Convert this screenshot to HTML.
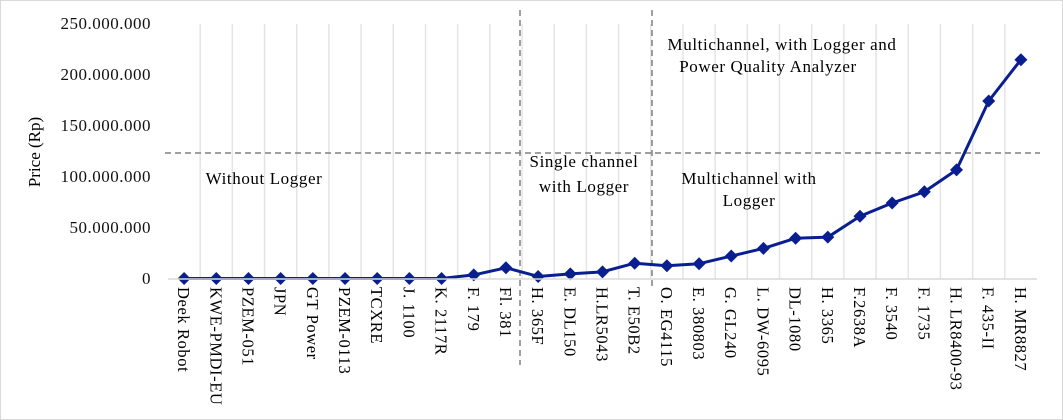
<!DOCTYPE html>
<html><head><meta charset="utf-8"><style>
body{margin:0;background:#fff}
svg{display:block;font-family:"Liberation Serif",serif}
</style></head><body>
<svg id="chart" width="1063" height="420">
<rect x="0.5" y="0.5" width="1062" height="419" fill="#fff" stroke="#d9d9d9"/>
<g id="grid"></g><g id="ann"></g><g id="series"></g><g id="axes"></g>
</svg>
<script>
const categories=["Deek Robot","KWE-PMDI-EU","PZEM-051","JPN","GT Power","PZEM-0113","TCXRE","J. 1100","K. 2117R","F. 179","Fl. 381","H. 365F","E. DL150","H.LR5043","T. E50B2","O. EG4115","E. 380803","G. GL240","L. DW-6095","DL-1080","H. 3365","F.2638A","F. 3540","F. 1735","H. LR8400-93","F. 435-II","H. MR8827"];
const prices=[0.5,0.5,0.5,0.5,0.5,0.5,0.5,0.5,0.5,4,11,2.5,5,7,15.5,13,15,22.5,30,40,41,61.5,74.5,85.5,107,174.5,215];
const yTicks=[0,50,100,150,200,250];
const yTickLabels=["0","50.000.000","100.000.000","150.000.000","200.000.000","250.000.000"];
const NS="http://www.w3.org/2000/svg";
const L=168,R=1037,Y0=279,Y1=24,YMAX=250;
const n=categories.length,step=(R-L)/n;
const x=i=>L+step*(i+0.5);
const y=v=>Y0-(v/YMAX)*(Y0-Y1);
function mk(p,t,a){const e=document.createElementNS(NS,t);for(const k in a)e.setAttribute(k,a[k]);p.appendChild(e);return e;}
const grid=document.getElementById('grid'),ann=document.getElementById('ann'),ser=document.getElementById('series'),ax=document.getElementById('axes');
for(let i=1;i<n;i++){const g=mk(grid,'line',{x1:L+step*i,x2:L+step*i,y1:Y1,y2:Y0,stroke:'#e4e4e4','stroke-width':1.5});

}
const base=mk(ax,'line',{x1:L,x2:R,y1:Y0,y2:Y0,stroke:'#d9d9d9','stroke-width':1.5});


yTicks.forEach((v,i)=>{const t=mk(ax,'text',{x:151,y:y(v)+5,'text-anchor':'end','font-size':17,'letter-spacing':0.5,fill:'#111'});t.textContent=yTickLabels[i];

});
const yt=mk(ax,'text',{x:0,y:0,transform:'translate(40,152) rotate(-90)','text-anchor':'middle','font-size':17});yt.textContent='Price (Rp)';


categories.forEach((c,i)=>{const t=mk(ax,'text',{x:0,y:0,transform:`translate(${x(i)-6},287) rotate(90)`,'font-size':16.5,'letter-spacing':0.6});t.textContent=c;

});
[[520,10,365],[652,10,290]].forEach(a=>{const d=mk(ann,'line',{x1:a[0],x2:a[0],y1:a[1],y2:a[2],stroke:'#808080','stroke-width':1.5,'stroke-dasharray':'6,4'});

});
const h=mk(ann,'line',{x1:165,x2:1040,y1:153,y2:153,stroke:'#808080','stroke-width':1.5,'stroke-dasharray':'6,4'});


[["Without Logger",264,184],["Single channel",584,167],["with Logger",584,192],["Multichannel with",749,184],["Logger",749,206],["Multichannel, with Logger and",782,50],["Power Quality Analyzer",768,72]].forEach(a=>{const t=mk(ann,'text',{x:a[1],y:a[2],'text-anchor':'middle','font-size':17,'letter-spacing':0.6});t.textContent=a[0];

});
const pts=prices.map((v,i)=>x(i)+','+y(v)).join(' ');
const pl=mk(ser,'polyline',{points:pts,fill:'none',stroke:'#0a1f8f','stroke-width':3,'stroke-linejoin':'round'});


prices.forEach((v,i)=>{const cx=x(i),cy=y(v),r=6.5;const m=mk(ser,'polygon',{points:`${cx},${cy-r} ${cx+r},${cy} ${cx},${cy+r} ${cx-r},${cy}`,fill:'#0a1f8f'});

});
</script>
</body></html>
